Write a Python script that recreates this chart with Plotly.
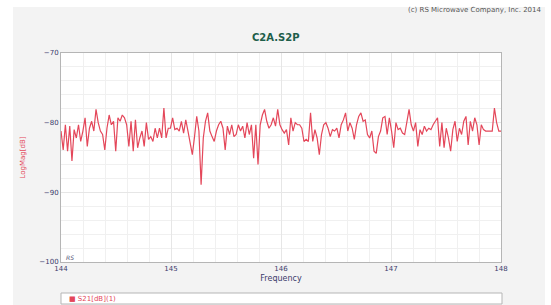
import numpy as np
import plotly.graph_objects as go

freq_start = 144.0
freq_stop = 148.0
s21_db = [
    -81.2, -83.9, -80.3, -84.1, -80.5, -85.5, -81.0, -82.2, -80.3, -82.7,
    -81.2, -79.3, -83.4, -80.8, -79.8, -81.2, -78.1, -80.0, -81.2, -81.7,
    -83.9, -80.8, -78.9, -80.3, -79.8, -84.1, -79.3, -79.8, -78.9, -79.3,
    -80.3, -83.4, -79.8, -84.1, -79.6, -83.6, -82.2, -81.2, -83.4, -80.0,
    -82.4, -82.0, -82.7, -80.8, -82.2, -80.8, -82.2, -77.9, -82.2, -80.8,
    -80.8, -79.3, -81.0, -80.8, -81.2, -79.8, -81.5, -79.6, -81.2, -82.7,
    -84.6, -82.0, -79.1, -81.2, -88.9, -82.2, -79.8, -78.6, -81.2, -82.0,
    -82.7, -81.2, -80.3, -79.8, -80.8, -83.9, -80.5, -81.7, -80.3, -82.0,
    -81.7, -80.3, -81.2, -80.5, -82.2, -80.0, -81.7, -80.3, -85.1, -80.3,
    -86.0, -80.3, -78.9, -78.1, -79.8, -80.8, -80.3, -79.3, -80.5,
    -78.1, -80.3, -81.0, -81.5, -81.0, -83.2, -79.3, -81.2, -80.0, -80.3,
    -80.3, -80.8, -82.7, -82.4, -82.7, -78.6, -82.7, -81.0, -82.2, -84.6,
    -81.7, -80.3, -80.0, -80.8, -82.0, -81.0, -81.2, -80.8, -82.2, -80.3,
    -79.6, -78.6, -81.2, -80.0, -80.8, -82.4, -80.3, -79.1, -78.6, -79.8,
    -79.6, -81.7, -82.2, -81.2, -84.1, -84.4, -82.0, -81.2, -79.3, -79.1,
    -81.7,
    -79.3, -81.2, -83.6, -80.0, -81.0, -80.8, -81.5, -81.7, -80.0, -78.1,
    -80.3, -81.2, -80.0, -83.4, -81.0, -81.7, -80.5, -81.2, -80.8, -81.0,
    -80.3, -79.8, -79.3, -83.4, -80.0, -83.6, -80.8, -82.2, -84.1, -81.0,
    -79.8, -82.7, -80.8, -81.7, -79.8, -79.1, -83.2, -79.8, -81.2, -79.3,
    -80.3, -83.2, -80.3, -81.0, -81.2, -81.2, -81.2, -81.2, -77.9, -80.0,
    -81.2, -81.2,
]
freqs = np.linspace(freq_start, freq_stop, len(s21_db))

x_ticks = [144, 145, 146, 147, 148]
y_ticks = [-100, -90, -80, -70]
title_text = "C2A.S2P"
copyright_text = "(c) RS Microwave Company, Inc. 2014"
legend_label = "S21[dB](1)"

W, H = 551, 305
L, R, T, B = 61, 50, 53, 43
pw, ph = W - L - R, H - T - B


def px(x):
    return (x - L) / pw


def py(y):
    return (H - B - y) / ph


trace_color = "#e4475a"
navy = "#3b3b6b"

fig = go.Figure()
fig.add_trace(go.Scatter(
    x=freqs, y=s21_db, mode="lines",
    line=dict(color=trace_color, width=1.2),
    showlegend=False, hoverinfo="skip",
))

fig.update_layout(
    width=W, height=H,
    margin=dict(l=L, r=R, t=T, b=B),
    paper_bgcolor="#f3f3f3",
    plot_bgcolor="white",
    font=dict(family="DejaVu Sans", size=8, color=navy),
    xaxis=dict(
        range=[freq_start, freq_stop], tickvals=x_ticks,
        ticktext=[str(t) for t in x_ticks],
        showgrid=True, gridcolor="#e6e6e6", gridwidth=1,
        minor=dict(dtick=0.2, showgrid=True, gridcolor="#f0f0f0"),
        showline=True, linecolor="#b5b5b5", mirror=True, linewidth=1,
        zeroline=False, ticks="", ticklen=0,
        tickfont=dict(size=7, color=navy),
        title=dict(text="Frequency", font=dict(size=8, color=navy), standoff=2),
    ),
    yaxis=dict(
        range=[-100, -70], tickvals=y_ticks,
        showgrid=True, gridcolor="#e6e6e6", gridwidth=1,
        minor=dict(dtick=2, showgrid=True, gridcolor="#f0f0f0"),
        showline=True, linecolor="#b5b5b5", mirror=True, linewidth=1,
        zeroline=False, ticks="", ticklen=0,
        tickfont=dict(size=7, color=navy),
        title=dict(text="LogMag[dB]", font=dict(size=7, color=trace_color), standoff=12),
    ),
    shapes=[
        dict(type="rect", xref="paper", yref="paper", x0=px(0), x1=px(13), y0=py(H), y1=py(0),
             fillcolor="white", line=dict(width=0), layer="below"),
        dict(type="rect", xref="paper", yref="paper", x0=px(545), x1=px(W), y0=py(H), y1=py(0),
             fillcolor="white", line=dict(width=0), layer="below"),
        dict(type="rect", xref="paper", yref="paper", x0=px(0), x1=px(W), y0=py(7), y1=py(0),
             fillcolor="white", line=dict(width=0), layer="below"),
        dict(type="rect", xref="paper", yref="paper", x0=px(61), x1=px(502), y0=py(304), y1=py(293),
             fillcolor="white", line=dict(width=1, color="#b5b5b5"), layer="below"),
    ],
    annotations=[
        dict(text=copyright_text, xref="paper", yref="paper", x=px(544), y=py(10),
             xanchor="right", yanchor="middle", showarrow=False,
             font=dict(size=7, color="#555555")),
        dict(text="<b>" + title_text + "</b>", xref="paper", yref="paper", x=px(276), y=py(38),
             xanchor="center", yanchor="middle", showarrow=False,
             font=dict(size=10, color="#1e5e4a")),
        dict(text="<i>RS</i>", xref="paper", yref="paper", x=px(64), y=py(257),
             xanchor="left", yanchor="middle", showarrow=False,
             font=dict(size=6, color="#555577")),
        dict(text="■ " + legend_label, xref="paper", yref="paper", x=px(67), y=py(298.5),
             xanchor="left", yanchor="middle", showarrow=False,
             font=dict(size=7, color=trace_color)),
    ],
)

fig.write_html(
    "out.html",
    config={"displayModeBar": False},
    post_script="document.body.style.margin='0';document.body.style.overflow='hidden';",
)
